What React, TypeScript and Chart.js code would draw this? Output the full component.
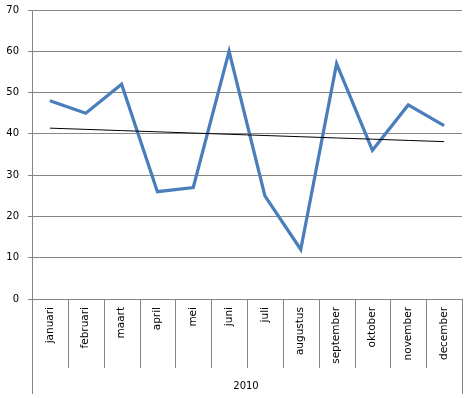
import React, { useEffect, useRef } from "react";
import { Chart, registerables } from "chart.js";

Chart.register(...registerables);

const categories = [
  "januari", "februari", "maart", "april", "mei", "juni",
  "juli", "augustus", "september", "oktober", "november", "december",
];
const values = [48, 45, 52, 26, 27, 60, 25, 12, 57, 36, 47, 42];
const groupLabel = "2010";
const yTicks = [0, 10, 20, 30, 40, 50, 60, 70];

const GRID = "#868686";
const FONT = "'DejaVu Sans', Verdana, sans-serif";

// linear trendline (least squares) like Excel's trendline
function linearTrend(ys: number[]): number[] {
  const n = ys.length;
  const xs = ys.map((_, i) => i + 1);
  const mx = xs.reduce((a, b) => a + b, 0) / n;
  const my = ys.reduce((a, b) => a + b, 0) / n;
  let sxy = 0, sxx = 0;
  for (let i = 0; i < n; i++) {
    sxy += (xs[i] - mx) * (ys[i] - my);
    sxx += (xs[i] - mx) * (xs[i] - mx);
  }
  const b = sxy / sxx;
  const a = my - b * mx;
  return xs.map((x) => a + b * x);
}

const groupPlugin = {
  id: "groupAxis",
  afterDraw(chart: any) {
    const { ctx, chartArea, scales } = chart;
    const xs = scales.x;
    const n = categories.length;
    ctx.save();
    ctx.strokeStyle = GRID;
    ctx.lineWidth = 1;
    for (let i = 0; i <= n; i++) {
      const px = Math.round(xs.getPixelForValue(i - 0.5)) + 0.5;
      const outer = i === 0 || i === n;
      const end = chartArea.bottom + (outer ? 95 : 69);
      ctx.beginPath();
      ctx.moveTo(px, chartArea.bottom);
      ctx.lineTo(px, end);
      ctx.stroke();
    }
    ctx.fillStyle = "#000";
    ctx.font = `10px ${FONT}`;
    ctx.textAlign = "center";
    ctx.textBaseline = "middle";
    ctx.fillText(groupLabel, (chartArea.left + chartArea.right) / 2 - 1, chartArea.bottom + 87);
    ctx.restore();
  },
};

export default function App() {
  const ref = useRef<HTMLCanvasElement | null>(null);
  useEffect(() => {
    if (!ref.current) return;
    const trend = linearTrend(values);
    const chart = new Chart(ref.current, {
      type: "line",
      data: {
        labels: categories,
        datasets: [
          {
            data: trend,
            borderColor: "#000000",
            borderWidth: 1,
            pointRadius: 0,
            fill: false,
          },
          {
            data: values,
            borderColor: "#4A7EBB",
            borderWidth: 3.25,
            pointRadius: 0,
            tension: 0,
            fill: false,
          },
        ],
      },
      options: {
        responsive: false,
        animation: false,
        layout: { padding: { top: 0, right: 9, left: 0, bottom: 0 } },
        plugins: { legend: { display: false }, tooltip: { enabled: false } },
        scales: {
          x: {
            type: "category",
            offset: true,
            grid: { display: true, drawOnChartArea: false, drawTicks: false, color: GRID },
            border: { display: true, color: GRID },
            ticks: {
              autoSkip: false,
              minRotation: 90,
              maxRotation: 90,
              padding: 8,
              color: "#000",
              font: { family: FONT, size: 10.5 },
            },
            afterFit(scale: any) {
              scale.height = 99;
            },
          },
          y: {
            min: 0,
            max: 70,
            afterBuildTicks(scale: any) {
              scale.ticks = yTicks.map((v) => ({ value: v }));
            },
            grid: { color: GRID, tickLength: 4 },
            border: { display: true, color: GRID },
            ticks: {
              padding: 9,
              color: "#000",
              font: { family: FONT, size: 10 },
            },
            afterFit(scale: any) {
              scale.width = 32;
              scale.paddingTop = 10;
              scale.paddingBottom = 0;
            },
          },
        },
      },
      plugins: [groupPlugin],
    });
    return () => chart.destroy();
  }, []);
  return (
    <div style={{ position: "absolute", left: 0, top: 0, width: 471, height: 398, background: "#fff" }}>
      <canvas ref={ref} width={471} height={398} style={{ display: "block" }} />
    </div>
  );
}
